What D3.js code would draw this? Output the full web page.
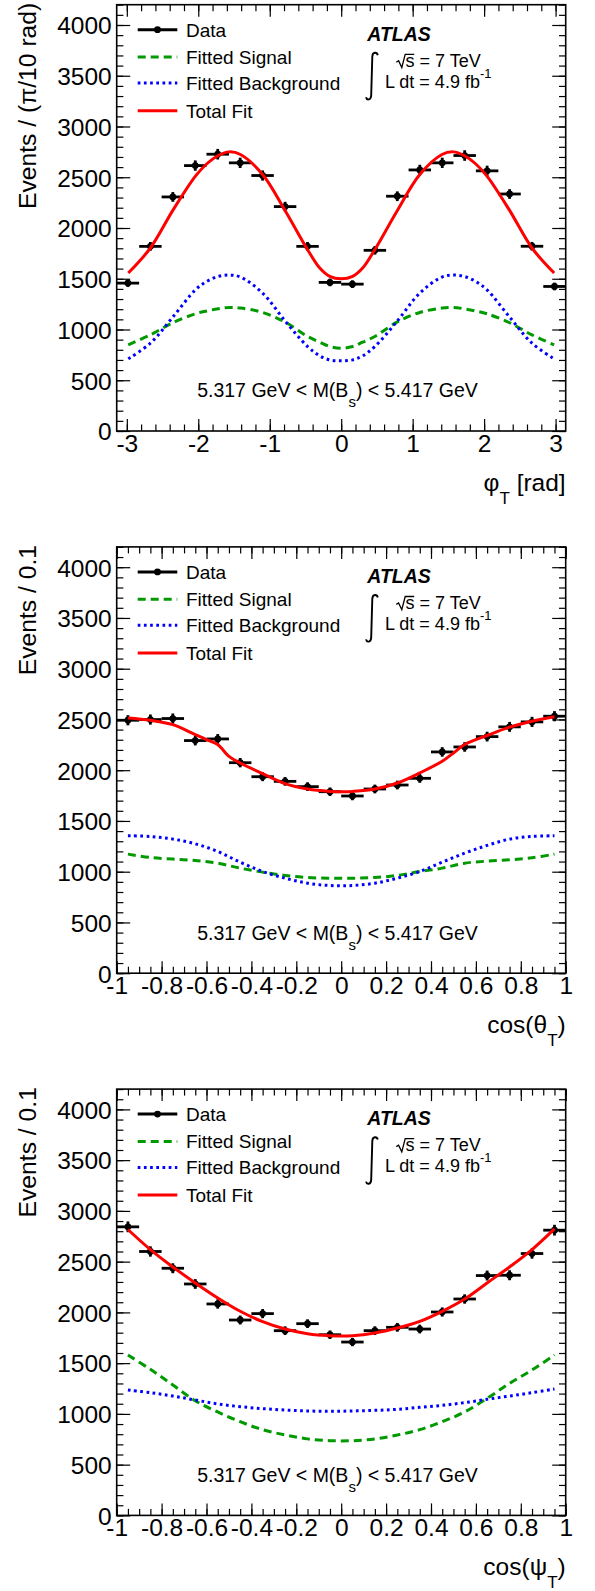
<!DOCTYPE html>
<html><head><meta charset="utf-8">
<script src="https://cdn.jsdelivr.net/npm/d3@7"></script>
<style>
body{margin:0;background:#fff}
svg{display:block}
text{font-family:"Liberation Sans",Arial,Helvetica,sans-serif;}
</style>
</head><body>
<svg id="c" width="595" height="1591"></svg>
<script>
// ---------------- DATA ----------------
// Panel 1 : phi_T
const phiBins = [-2.985,-2.670,-2.356,-2.042,-1.728,-1.414,-1.100,-0.785,-0.471,-0.157,0.157,0.471,0.785,1.100,1.414,1.728,2.042,2.356,2.670,2.985];
const phiBinWidth = 0.31416;
const phiData = [1457,1819,2306,2615,2727,2642,2517,2211,1819,1464,1447,1780,2313,2572,2642,2714,2563,2335,1820,1424];
const phiErr  = [38,43,48,51,52,51,50,47,43,38,38,42,48,51,51,52,51,48,43,38];
const phiCurveX = [-2.98,-2.67,-2.35,-2.04,-1.88,-1.72,-1.57,-1.41,-1.10,-0.78,-0.47,-0.30,-0.16,0,0.16,0.30,0.47,0.78,1.10,1.41,1.57,1.72,1.88,2.04,2.35,2.67,2.98];
const phiTotal  = [1556,1803,2181,2511,2633,2714,2750,2724,2527,2165,1786,1605,1523,1499,1523,1605,1786,2165,2527,2724,2750,2714,2633,2511,2181,1803,1556];
const phiSignal = [849,947,1069,1155,1183,1204,1217,1211,1168,1072,931,875,832,816,832,875,931,1072,1168,1211,1217,1204,1183,1155,1069,947,849];
const phiBkg    = [711,865,1128,1391,1474,1523,1536,1517,1359,1079,832,740,701,691,701,740,832,1079,1359,1517,1536,1523,1474,1391,1128,865,711];

// Panel 2 : cos(theta_T)
const cosBins = [-0.95,-0.85,-0.75,-0.65,-0.55,-0.45,-0.35,-0.25,-0.15,-0.05,0.05,0.15,0.25,0.35,0.45,0.55,0.65,0.75,0.85,0.95];
const cosBinWidth = 0.1;
const thData = [2492,2499,2509,2292,2308,2074,1936,1890,1838,1788,1746,1815,1854,1920,2180,2229,2331,2427,2476,2532];
const thErr  = [50,50,50,48,48,46,44,43,43,42,42,43,43,44,47,47,48,49,50,50];
const thTotalX = [-0.95,-0.85,-0.75,-0.65,-0.60,-0.55,-0.50,-0.45,-0.35,-0.25,-0.15,-0.05,0.01,0.05,0.15,0.25,0.35,0.45,0.50,0.55,0.65,0.75,0.85,0.95];
const thTotal  = [2515,2492,2449,2351,2302,2253,2136,2071,1966,1867,1814,1791,1788,1791,1814,1874,1973,2088,2170,2253,2342,2424,2483,2526];
const thSignal = [1173,1140,1124,1111,1084,1035,996,963,943,936,936,943,963,1002,1035,1084,1104,1117,1137,1173];
const thBkg    = [1354,1347,1321,1275,1199,1094,1002,936,887,864,864,887,936,1002,1094,1183,1259,1321,1347,1354];

// Panel 3 : cos(psi_T)
const psData = [2843,2600,2435,2280,2083,1925,1988,1820,1889,1780,1708,1820,1853,1836,2004,2132,2363,2366,2580,2810];
const psErr  = [53,51,49,48,46,44,45,43,43,42,41,43,43,43,45,46,49,49,51,53];
const psTotal  = [2817,2619,2448,2290,2142,2011,1909,1836,1790,1771,1771,1797,1846,1912,2011,2132,2290,2448,2619,2823];
const psSignal = [1580,1439,1285,1130,1019,923,845,792,754,736,736,754,792,845,923,1019,1153,1301,1433,1580];
const psBkg    = [1235,1209,1176,1137,1098,1071,1052,1038,1029,1026,1029,1035,1045,1065,1084,1111,1144,1176,1209,1245];

// Ticks / labels
const yTicks = [0,500,1000,1500,2000,2500,3000,3500,4000];
const yTickLabels = ["0","500","1000","1500","2000","2500","3000","3500","4000"];
const phiTicks = [-3,-2,-1,0,1,2,3];
const phiTickLabels = ["-3","-2","-1","0","1","2","3"];
const cosTicks = [-1,-0.8,-0.6,-0.4,-0.2,0,0.2,0.4,0.6,0.8,1];
const cosTickLabels = ["-1","-0.8","-0.6","-0.4","-0.2","0","0.2","0.4","0.6","0.8","1"];
const legendLabels = ["Data","Fitted Signal","Fitted Background","Total Fit"];
const massLabel = ["5.317 GeV < M(B","s",") < 5.417 GeV"];

// ---------------- LAYOUT ----------------
const FONT = '"Liberation Sans",Arial,Helvetica,sans-serif';
const svg = d3.select("#c");
const FX0 = 116.7, FX1 = 565.7, FH = 426.3, YMAX = 4200;
const ZEROS = [431, 973.2, 1515.4];
const RED = "#ff0000", GREEN = "#009a00", BLUE = "#0000ff";
const SIGDASH = "8 5", BKGDASH = "2.7 3.5";

const panels = [
  {bins:phiBins, w:phiBinWidth, data:phiData, err:phiErr, domain:[-Math.PI,Math.PI],
   majorX:phiTicks, labelsX:phiTickLabels, minorX:d3.range(-3,3.001,0.2),
   totalX:phiCurveX, total:phiTotal, compX:phiCurveX, sig:phiSignal, bkg:phiBkg,
   ytitle:"Events / (π/10 rad)", xtitle:["φ","T"," [rad]"]},
  {bins:cosBins, w:cosBinWidth, data:thData, err:thErr, domain:[-1,1],
   majorX:cosTicks, labelsX:cosTickLabels, minorX:d3.range(-1,1.0001,0.05),
   totalX:thTotalX, total:thTotal, compX:cosBins, sig:thSignal, bkg:thBkg,
   ytitle:"Events / 0.1", xtitle:["cos(θ","T",")"]},
  {bins:cosBins, w:cosBinWidth, data:psData, err:psErr, domain:[-1,1],
   majorX:cosTicks, labelsX:cosTickLabels, minorX:d3.range(-1,1.0001,0.05),
   totalX:cosBins, total:psTotal, compX:cosBins, sig:psSignal, bkg:psBkg,
   ytitle:"Events / 0.1", xtitle:["cos(ψ","T",")"]}
];

function styleAxis(s){
  s.select(".domain").remove();
  s.attr("font-family", FONT).attr("font-size", 24.5).attr("color", "#000");
  s.selectAll(".tick line").attr("stroke-width", 1.2);
}

panels.forEach((p, i) => {
  const z = ZEROS[i], top = z - FH;
  const x = d3.scaleLinear().domain(p.domain).range([FX0, FX1]);
  const y = d3.scaleLinear().domain([0, YMAX]).range([z, top]);
  const g = svg.append("g");

  const yMinor = d3.range(0, YMAX + 1, 100);
  // axes: bottom, top, left, right (ROOT style inward ticks)
  g.append("g").attr("transform", `translate(0,${z})`)
    .call(d3.axisBottom(x).tickValues(p.majorX).tickFormat((d,k)=>p.labelsX[k]).tickSize(-12).tickPadding(3.6)).call(styleAxis);
  g.append("g").attr("transform", `translate(0,${z})`)
    .call(d3.axisBottom(x).tickValues(p.minorX).tickFormat("").tickSize(-6.5)).call(styleAxis);
  g.append("g").attr("transform", `translate(0,${top})`)
    .call(d3.axisTop(x).tickValues(p.majorX).tickFormat("").tickSize(-12)).call(styleAxis);
  g.append("g").attr("transform", `translate(0,${top})`)
    .call(d3.axisTop(x).tickValues(p.minorX).tickFormat("").tickSize(-6.5)).call(styleAxis);
  const la = g.append("g").attr("transform", `translate(${FX0},0)`)
    .call(d3.axisLeft(y).tickValues(yTicks).tickFormat((d,k)=>yTickLabels[k]).tickSize(-13.5).tickPadding(5)).call(styleAxis);
  la.selectAll("text").attr("dy", "0.36em");
  g.append("g").attr("transform", `translate(${FX0},0)`)
    .call(d3.axisLeft(y).tickValues(yMinor).tickFormat("").tickSize(-6.7)).call(styleAxis);
  g.append("g").attr("transform", `translate(${FX1},0)`)
    .call(d3.axisRight(y).tickValues(yTicks).tickFormat("").tickSize(-13.5)).call(styleAxis);
  g.append("g").attr("transform", `translate(${FX1},0)`)
    .call(d3.axisRight(y).tickValues(yMinor).tickFormat("").tickSize(-6.7)).call(styleAxis);

  // frame
  g.append("rect").attr("x", FX0).attr("y", top).attr("width", FX1 - FX0).attr("height", FH)
    .attr("fill", "none").attr("stroke", "#000").attr("stroke-width", 1.6);

  // data points
  const pts = p.bins.map((c, k) => ({c, v: p.data[k], e: p.err[k]}));
  const dg = g.append("g").attr("stroke", "#000").attr("stroke-width", 2.8);
  dg.selectAll("line.h").data(pts).join("line").attr("class","h")
    .attr("x1", d => x(d.c - p.w/2)).attr("x2", d => x(d.c + p.w/2))
    .attr("y1", d => y(d.v)).attr("y2", d => y(d.v));
  dg.selectAll("line.v").data(pts).join("line").attr("class","v")
    .attr("x1", d => x(d.c)).attr("x2", d => x(d.c))
    .attr("y1", d => y(d.v - d.e)).attr("y2", d => y(d.v + d.e));
  g.append("g").selectAll("circle").data(pts).join("circle")
    .attr("cx", d => x(d.c)).attr("cy", d => y(d.v)).attr("r", 3.4).attr("fill", "#000");

  // curves
  const line = d3.line().x(d => x(d[0])).y(d => y(d[1])).curve(d3.curveCatmullRom.alpha(0.5));
  g.append("path").attr("d", line(p.compX.map((xx,k)=>[xx, p.sig[k]])))
    .attr("fill","none").attr("stroke", GREEN).attr("stroke-width", 3).attr("stroke-dasharray", SIGDASH);
  g.append("path").attr("d", line(p.compX.map((xx,k)=>[xx, p.bkg[k]])))
    .attr("fill","none").attr("stroke", BLUE).attr("stroke-width", 3).attr("stroke-dasharray", BKGDASH);
  g.append("path").attr("d", line(p.totalX.map((xx,k)=>[xx, p.total[k]])))
    .attr("fill","none").attr("stroke", RED).attr("stroke-width", 3);

  // legend
  const rowY = [25, 52.3, 78.3, 106].map(r => top + r);
  const lx0 = 137.7, lx1 = 177.3;
  g.append("line").attr("x1", lx0).attr("x2", lx1).attr("y1", rowY[0]).attr("y2", rowY[0])
    .attr("stroke", "#000").attr("stroke-width", 3);
  g.append("circle").attr("cx", (lx0+lx1)/2).attr("cy", rowY[0]).attr("r", 3.4).attr("fill", "#000");
  g.append("line").attr("x1", lx0).attr("x2", lx1).attr("y1", rowY[1]).attr("y2", rowY[1])
    .attr("stroke", GREEN).attr("stroke-width", 3).attr("stroke-dasharray", SIGDASH);
  g.append("line").attr("x1", lx0).attr("x2", lx1).attr("y1", rowY[2]).attr("y2", rowY[2])
    .attr("stroke", BLUE).attr("stroke-width", 3).attr("stroke-dasharray", BKGDASH);
  g.append("line").attr("x1", lx0).attr("x2", lx1).attr("y1", rowY[3]).attr("y2", rowY[3])
    .attr("stroke", RED).attr("stroke-width", 3);
  legendLabels.forEach((t, k) => {
    g.append("text").attr("x", 186).attr("y", rowY[k] + 7).attr("font-size", 19).text(t);
  });

  // ATLAS label
  g.append("text").attr("x", 367.3).attr("y", top + 36.3).attr("font-size", 19.5)
    .attr("font-weight", "bold").attr("font-style", "italic").text("ATLAS");
  // integral sign
  g.append("path")
    .attr("d", `M377.8,${top+50.5} C377,${top+47.3} 372.6,${top+46.8} 372.3,${top+52} L371.2,${top+90.5} C370.9,${top+95.6} 366.8,${top+95.8} 366,${top+92.5}`)
    .attr("fill", "none").attr("stroke", "#000").attr("stroke-width", 1.9);
  // radical for sqrt(s)
  g.append("path")
    .attr("d", `M396.3,${top+57.5} L398.6,${top+56} L401.8,${top+62.8} L405.2,${top+49.6} L414.2,${top+49.6}`)
    .attr("fill", "none").attr("stroke", "#000").attr("stroke-width", 1.3);
  g.append("text").attr("x", 405.6).attr("y", top + 62.3).attr("font-size", 18).text("s = 7 TeV");
  const ld = g.append("text").attr("x", 385).attr("y", top + 83.3).attr("font-size", 18);
  ld.append("tspan").text("L dt = 4.9 fb");
  ld.append("tspan").attr("font-size", 13).attr("dy", -10.5).text("-1");

  // mass window label
  const ml = g.append("text").attr("x", 337.5).attr("y", z - 33.7).attr("font-size", 19.5).attr("text-anchor", "middle");
  ml.append("tspan").text(massLabel[0]);
  ml.append("tspan").attr("font-size", 15).attr("dy", 10).text(massLabel[1]);
  ml.append("tspan").attr("dy", -10).text(massLabel[2]);

  // axis titles
  g.append("text").attr("transform", `translate(36,${top - 2}) rotate(-90)`)
    .attr("text-anchor", "end").attr("font-size", 24.7).text(p.ytitle);
  const xt = g.append("text").attr("x", FX1).attr("y", z + 60).attr("font-size", 24.5).attr("text-anchor", "end");
  xt.append("tspan").text(p.xtitle[0]);
  xt.append("tspan").attr("font-size", 17).attr("dy", 12.5).text(p.xtitle[1]);
  xt.append("tspan").attr("dy", -12.5).text(p.xtitle[2]);
});
</script>
</body></html>
